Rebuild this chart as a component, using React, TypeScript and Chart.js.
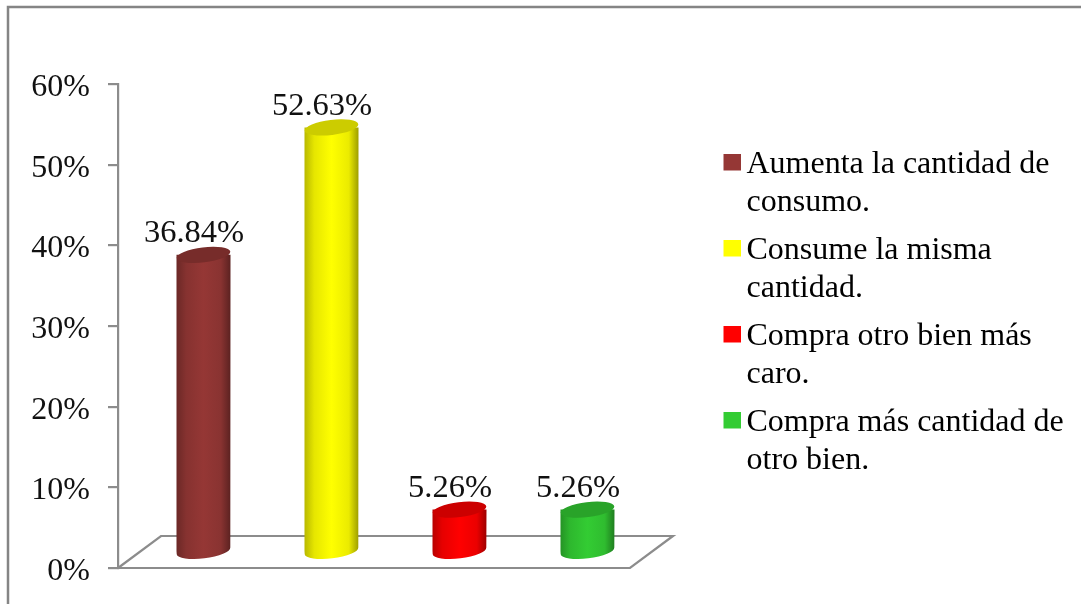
import React, { useEffect, useRef } from "react";
import { Chart, registerables } from "chart.js";

Chart.register(...registerables);

const categories = [
  ["Aumenta la cantidad de", "consumo."],
  ["Consume la misma", "cantidad."],
  ["Compra otro bien más", "caro."],
  ["Compra más cantidad de", "otro bien."],
];
const seriesValues = [36.84, 52.63, 5.26, 5.26];
const seriesColors = ["#953735", "#ffff00", "#ff0000", "#33cc33"];
const yTicks = [0, 10, 20, 30, 40, 50, 60];

const FONT = '"Liberation Serif", "Times New Roman", serif';
const AXIS = "#8c8c8c";
const DEPTH_X = 43;
const DEPTH_Y = 32;

function shade(hex: string, f: number) {
  const n = parseInt(hex.slice(1), 16);
  const c = [(n >> 16) & 255, (n >> 8) & 255, n & 255].map((v) => Math.round(v * f));
  return `rgb(${c[0]},${c[1]},${c[2]})`;
}

function swatch(color: string) {
  const c = document.createElement("canvas");
  c.width = 21;
  c.height = 22;
  const g = c.getContext("2d")!;
  g.fillStyle = color;
  g.fillRect(4, 0, 17, 17);
  return c;
}

const scene = {
  id: "scene",
  beforeDraw(chart: any) {
    const { ctx, width, height } = chart;
    ctx.save();
    ctx.fillStyle = "#fff";
    ctx.fillRect(0, 0, width, height);
    ctx.strokeStyle = "#858585";
    ctx.lineWidth = 2.5;
    ctx.beginPath();
    ctx.moveTo(8, height);
    ctx.lineTo(8, 7);
    ctx.lineTo(width, 7);
    ctx.stroke();
    ctx.restore();
  },
  beforeDatasetsDraw(chart: any) {
    const { ctx, scales } = chart;
    const y0 = scales.y.getPixelForValue(0);
    const l = scales.x.left;
    const r = scales.x.right;
    ctx.save();
    ctx.strokeStyle = AXIS;
    ctx.lineWidth = 2.2;
    ctx.beginPath();
    ctx.moveTo(l - 10, y0);
    ctx.lineTo(r, y0);
    ctx.lineTo(r + DEPTH_X, y0 - DEPTH_Y);
    ctx.lineTo(l + DEPTH_X, y0 - DEPTH_Y);
    ctx.lineTo(l, y0);
    ctx.stroke();
    ctx.restore();
  },
  beforeDatasetDraw(chart: any, args: any) {
    const { ctx } = chart;
    const meta = args.meta;
    const ds = chart.data.datasets[args.index];
    meta.data.forEach((bar: any, i: number) => {
      const color = ds.backgroundColor[i];
      const cx = bar.x + DEPTH_X / 2;
      const top = bar.y - DEPTH_Y / 2;
      const base = bar.base - DEPTH_Y / 2;
      const rx = bar.width / 2;
      const ry = 7.5;
      const tilt = (-7 * Math.PI) / 180;
      const grad = ctx.createLinearGradient(cx - rx, 0, cx + rx, 0);
      grad.addColorStop(0, shade(color, 0.72));
      grad.addColorStop(0.18, shade(color, 0.9));
      grad.addColorStop(0.5, color);
      grad.addColorStop(0.82, shade(color, 0.92));
      grad.addColorStop(1, shade(color, 0.62));
      ctx.save();
      ctx.fillStyle = grad;
      ctx.beginPath();
      ctx.moveTo(cx - rx, top);
      ctx.lineTo(cx - rx, base);
      ctx.ellipse(cx, base, rx, ry, tilt, Math.PI, 0, true);
      ctx.lineTo(cx + rx, top);
      ctx.closePath();
      ctx.fill();
      ctx.fillStyle = shade(color, 0.8);
      ctx.beginPath();
      ctx.ellipse(cx, top, rx, ry, tilt, 0, Math.PI * 2);
      ctx.fill();
      ctx.restore();
    });
    return false;
  },
  afterDatasetsDraw(chart: any) {
    const { ctx } = chart;
    const meta = chart.getDatasetMeta(0);
    ctx.save();
    ctx.fillStyle = "#111";
    ctx.font = `32.5px ${FONT}`;
    ctx.textAlign = "center";
    ctx.textBaseline = "middle";
    meta.data.forEach((bar: any, i: number) => {
      const text = seriesValues[i].toFixed(2) + "%";
      ctx.fillText(text, bar.x + DEPTH_X / 2 - 9.5, bar.y - DEPTH_Y / 2 - 21);
    });
    ctx.restore();
  },
  afterLayout(chart: any) {
    const lg = chart.legend;
    lg.left = 719.5;
    lg.right = 1081;
    lg.top = 138.5;
    lg.bottom = 604;
  },
};

export default function App() {
  const ref = useRef<HTMLCanvasElement>(null);
  useEffect(() => {
    document.body.style.margin = "0";
    const chart = new Chart(ref.current!, {
      type: "bar",
      plugins: [scene],
      data: {
        labels: categories as any,
        datasets: [
          {
            data: seriesValues,
            backgroundColor: seriesColors,
            barThickness: 54,
          },
        ],
      },
      options: {
        responsive: false,
        animation: false,
        devicePixelRatio: 1,
        layout: { padding: { left: 8, right: 451, top: 84, bottom: 36 } },
        plugins: {
          title: { display: false },
          tooltip: { enabled: false },
          legend: {
            display: true,
            position: "chartArea",
            align: "start",
            labels: {
              color: "#111",
              font: { family: FONT, size: 32, lineHeight: "38px" },
              padding: 10,
              usePointStyle: true,
              pointStyleWidth: 1,
              generateLabels: () =>
                categories.map((text, i) => ({
                  text,
                  fillStyle: seriesColors[i],
                  strokeStyle: seriesColors[i],
                  pointStyle: swatch(seriesColors[i]),
                  lineWidth: 0,
                  hidden: false,
                  index: i,
                })),
            },
          },
        },
        scales: {
          x: { display: false, grid: { display: false } },
          y: {
            min: 0,
            max: 60,
            afterFit: (s: any) => {
              s.width = 110;
            },
            afterBuildTicks: (s: any) => {
              s.ticks = yTicks.map((value) => ({ value }));
            },
            border: { color: AXIS, width: 2.2 },
            grid: {
              drawOnChartArea: false,
              drawTicks: true,
              tickLength: 10,
              color: AXIS,
              lineWidth: 2.2,
            },
            ticks: {
              color: "#111",
              font: { family: FONT, size: 32, lineHeight: 1 },
              padding: 18,
              labelOffset: 3.5,
              callback: (v: any) => `${v}%`,
            },
          },
        },
      } as any,
    });
    return () => chart.destroy();
  }, []);
  return (
    <div style={{ position: "absolute", left: 0, top: 0, width: 1081, height: 604, background: "#fff" }}>
      <canvas ref={ref} width={1081} height={604} style={{ display: "block" }} />
    </div>
  );
}
